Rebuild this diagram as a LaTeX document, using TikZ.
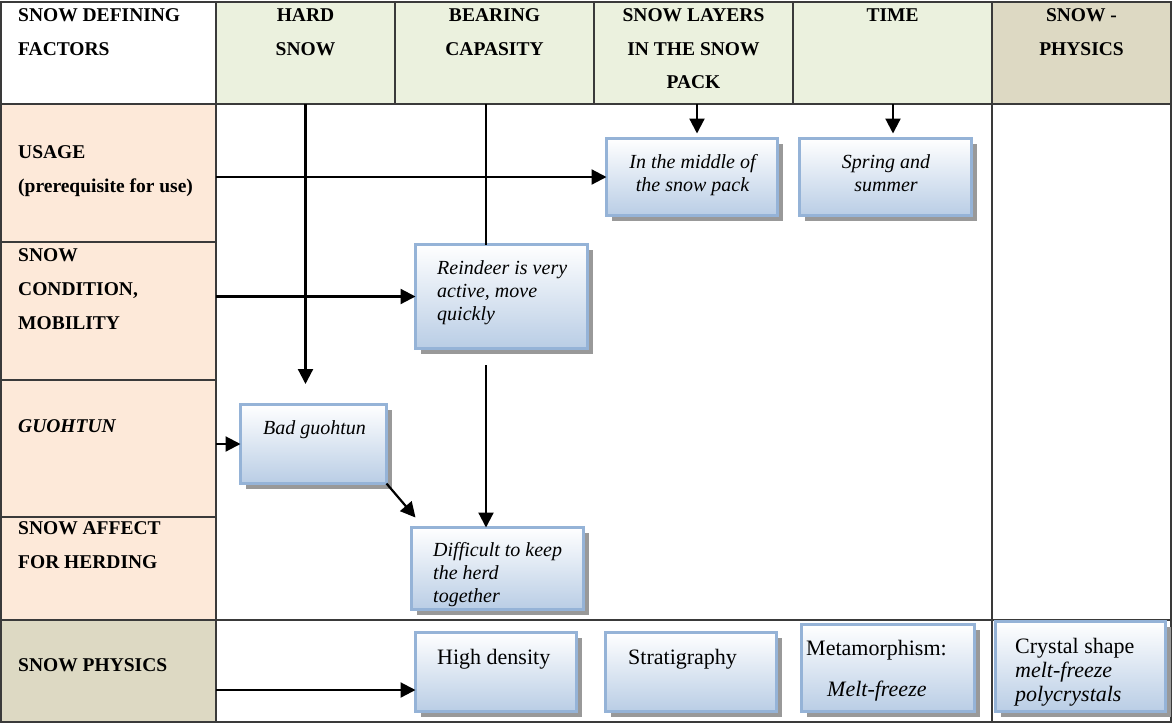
\documentclass[tikz,border=0pt]{standalone}
\usepackage{fontspec}
\setmainfont{Liberation Serif}
\usetikzlibrary{arrows.meta,calc,shadows}
\definecolor{gridc}{HTML}{3A3A3A}
\definecolor{hgreen}{HTML}{EBF1DE}
\definecolor{htan}{HTML}{DDD9C3}
\definecolor{peach}{HTML}{FDE9D9}
\definecolor{bluebd}{HTML}{95B3D7}
\definecolor{bluebot}{HTML}{B9CDE5}
\definecolor{shad}{HTML}{999999}
\begin{document}
\begin{tikzpicture}[x=1pt,y=-1pt,
 cell/.style={draw=gridc, line width=1.2pt, inner sep=0, outer sep=0, anchor=north west},
 hdr/.style={font=\fontsize{19.5}{33.5}\selectfont\bfseries, align=center, inner sep=0, anchor=base},
 lbl/.style={font=\fontsize{19.5}{34}\selectfont\bfseries, align=left, inner sep=0, anchor=base west},
 bx/.style={draw=bluebd, line width=3pt, top color=white, bottom color=bluebot, inner sep=0, outer sep=0,
   drop shadow={shadow xshift=5pt, shadow yshift=-5pt, fill=shad, opacity=1}},
 itx/.style={font=\fontsize{20}{23}\selectfont\itshape, inner sep=0},
 rtx/.style={font=\fontsize{22}{24}\selectfont, inner sep=0, anchor=base west},
 arr/.style={line width=2.2pt, -{Triangle[length=15pt,width=15pt]}},
 ln/.style={line width=2.2pt},
]
\useasboundingbox (0,0) rectangle (1172,724);
\fill[white] (0,0) rectangle (1172,724);

% header cells
\node[cell, fill=white,  minimum width=215, minimum height=102] (corner) at (1,2) {};
\node[cell, fill=hgreen, minimum width=179, minimum height=102] (hs) at (216,2) {};
\node[cell, fill=hgreen, minimum width=199, minimum height=102] (bc) at (395,2) {};
\node[cell, fill=hgreen, minimum width=199, minimum height=102] (sl) at (594,2) {};
\node[cell, fill=hgreen, minimum width=199, minimum height=102] (tm) at (793,2) {};
\node[cell, fill=htan,   minimum width=179, minimum height=102] (sp) at (992,2) {};
% left cells
\node[cell, fill=peach, minimum width=215, minimum height=138] (usage) at (1,104) {};
\node[cell, fill=peach, minimum width=215, minimum height=138] (cond) at (1,242) {};
\node[cell, fill=peach, minimum width=215, minimum height=137] (guoh) at (1,380) {};
\node[cell, fill=peach, minimum width=215, minimum height=103] (herd) at (1,517) {};
\node[cell, fill=htan,  minimum width=215, minimum height=102] (phys) at (1,620) {};
% body lines
\draw[gridc, line width=1.2pt] (216,104) rectangle (1171,722);
\draw[gridc, line width=1.2pt] (phys.north east) -- (1171,620);
\draw[gridc, line width=1.2pt] (sp.south west) -- (992,722);

% header texts (base = baseline of last line)
\node[lbl] (t0) at (18,55) {SNOW DEFINING\\FACTORS};
\node[hdr] (t1) at (305.5,55) {HARD\\SNOW};
\node[hdr] (t2) at (494.5,55) {BEARING\\CAPASITY};
\node[hdr] (t3) at (693.5,88.5) {SNOW LAYERS\\IN THE SNOW\\PACK};
\node[hdr] (t4) at (892.5,21.5) {TIME};
\node[hdr] (t5) at (1081.5,55) {SNOW -\\PHYSICS};
% row labels
\node[lbl] (t6) at (18,192.5) {USAGE\\(prerequisite for use)};
\node[lbl] (t7) at (18,329) {SNOW\\CONDITION,\\MOBILITY};
\node[lbl] (t8) at (18,432.5) {\itshape GUOHTUN};
\node[lbl] (t9) at (18,568.5) {SNOW AFFECT\\FOR HERDING};
\node[lbl] (t10) at (18,671.5) {SNOW PHYSICS};

% boxes
\node[bx, minimum width=171, minimum height=77] (b1) at (692,177) {};
\node[bx, minimum width=172, minimum height=77] (b2) at (885.5,177) {};
\node[bx, minimum width=172, minimum height=104] (b3) at (501.5,296.5) {};
\node[bx, minimum width=146, minimum height=79] (b4) at (313.5,444) {};
\node[bx, minimum width=172, minimum height=82] (b5) at (497.5,568.5) {};
\node[bx, minimum width=161, minimum height=79] (b6) at (496,672) {};
\node[bx, minimum width=171, minimum height=79] (b7) at (691,672) {};
\node[bx, minimum width=173, minimum height=87] (b8) at (888,668) {};
\node[bx, minimum width=170, minimum height=90] (b9) at (1080.5,666.5) {};

% box texts (base = baseline of last line)
\node[itx, align=center, anchor=base] (x1) at (692.5,191) {In the middle of\\the snow pack};
\node[itx, align=center, anchor=base] (x2) at (886,191) {Spring and\\summer};
\node[itx, align=left, anchor=base west] (x3) at (437,320) {Reindeer is very\\active, move\\quickly};
\node[itx, anchor=base] (x4) at (314.5,434) {Bad guohtun};
\node[itx, align=left, anchor=base west] (x5) at (433,602) {Difficult to keep\\the herd\\together};
\node[rtx] (x6) at (437,664) {High density};
\node[rtx] (x7) at (628,664) {Stratigraphy};
\node[rtx] (x8) at (806,655) {Metamorphism:};
\node[rtx, font=\fontsize{22}{24}\selectfont\itshape] (x8b) at (827,696) {Melt-freeze};
\node[rtx, align=left] (x9) at (1015,701) {Crystal shape\\\textit{melt-freeze}\\\textit{polycrystals}};

% connectors
\coordinate (hsEnd) at (305.5,384);
\draw[arr] (hs.south) -- (hsEnd);
\coordinate (bcTop) at (486,104);
\draw[ln] (bcTop) -- (bcTop |- b3.north);
\coordinate (bcMid) at (486,365);
\draw[arr] (bcMid) -- (bcMid |- b5.north);
\draw[arr, shorten >=5pt] ([xshift=5pt]b1.north |- sl.south) -- ([xshift=5pt]b1.north);
\draw[arr, shorten >=5pt] ([xshift=7.5pt]b2.north |- tm.south) -- ([xshift=7.5pt]b2.north);
\draw[arr] (b1.west -| usage.east) -- (b1.west);
\draw[arr] (b3.west -| cond.east) -- (b3.west);
\draw[arr] (b4.west -| guoh.east) -- (b4.west);
\draw[arr] ($(b6.west -| phys.east)+(0,18)$) -- ($(b6.west)+(0,18)$);
\draw[arr] (b4.south east) -- ($(b5.north west)+(4,-10)$);
\end{tikzpicture}
\end{document}
